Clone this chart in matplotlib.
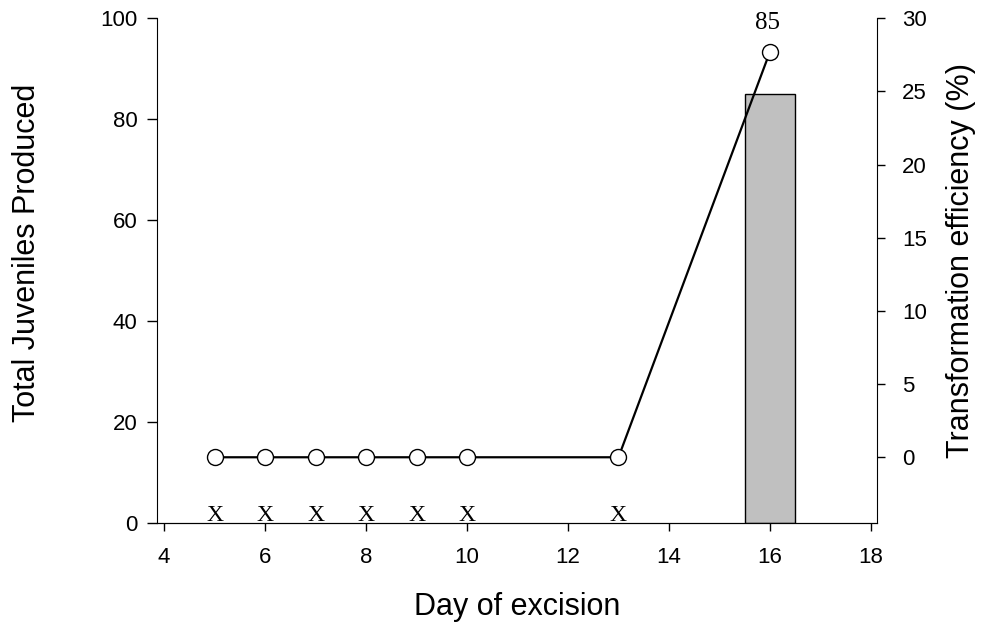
import matplotlib
matplotlib.use("Agg")
import matplotlib.pyplot as plt

# data
days = [5, 6, 7, 8, 9, 10, 13, 16]
efficiency = [0, 0, 0, 0, 0, 0, 0, 27.7]
bar_days = [16]
juveniles = [85]
zero_days = [5, 6, 7, 8, 9, 10, 13]
bar_label = "85"

plt.rcParams['font.family'] = ['Liberation Sans', 'DejaVu Sans']

fig = plt.figure(figsize=(9.82, 6.28), dpi=100)
ax = fig.add_axes([0.160, 0.167, 0.733, 0.804])
ax2 = ax.twinx()

# bars on the left axis
ax.bar(bar_days, juveniles, width=1.0, color="#c0c0c0", edgecolor="black", linewidth=1, zorder=1)
ax.set_xlim(3.86, 18.12)
ax.set_ylim(0, 100)
ax.set_xticks([4, 6, 8, 10, 12, 14, 16, 18])
ax.set_yticks([0, 20, 40, 60, 80, 100])

# "X" marks for days with no juveniles
for d in zero_days:
    ax.text(d, 0.5, "X", family="Liberation Serif", fontsize=17, ha="center", va="baseline")

# line on the right axis
ax2.plot(days, efficiency, color="black", linewidth=1.6, marker="o", markersize=11.5,
         markerfacecolor="white", markeredgecolor="black", markeredgewidth=1, zorder=3)
ax2.set_ylim(-4.5, 30)
ax2.set_yticks([0, 5, 10, 15, 20, 25, 30])
ax2.text(bar_days[0] - 0.05, efficiency[-1] + 1.2, bar_label, family="Liberation Serif",
         fontsize=18, ha="center", va="bottom")

for a in (ax, ax2):
    a.spines['top'].set_visible(False)
ax2.spines['left'].set_visible(False)
ax.spines['right'].set_visible(False)
ax.tick_params(axis='x', labelsize=16, direction="out", length=5.5, width=1, pad=12)
ax.tick_params(axis='y', labelsize=16, direction="out", length=7, width=1, pad=7)
ax2.tick_params(axis='y', labelsize=16, direction="out", length=6, width=1, pad=12)

ax.set_xlabel("Day of excision", fontsize=22)
ax.xaxis.set_label_coords(0.5, -0.166)
ax.xaxis.label.set_va("center")
ax.set_ylabel("Total Juveniles Produced", fontsize=22)
ax.yaxis.set_label_coords(-0.181, 0.535)
ax.yaxis.label.set_va("center")
ax2.set_ylabel("Transformation efficiency (%)", fontsize=22)
ax2.yaxis.set_label_coords(1.117, 0.52)
ax2.yaxis.label.set_va("center")

fig.savefig("out.png", dpi=100)
